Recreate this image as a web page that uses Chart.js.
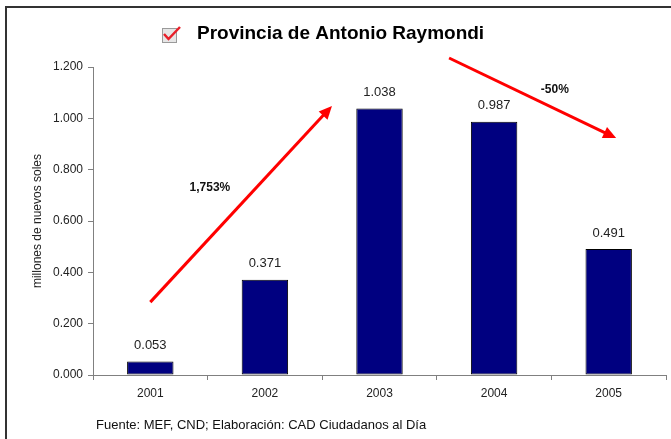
<!DOCTYPE html>
<html><head><meta charset="utf-8">
<script src="https://cdn.jsdelivr.net/npm/chart.js@4"></script>
<style>html,body{margin:0;padding:0;background:#fff}#wrap{width:671px;height:439px;position:relative}</style>
</head><body><div id="wrap"><canvas id="c" width="671" height="439"></canvas></div>
<script>
const years = ['2001', '2002', '2003', '2004', '2005'];
const values = [0.053, 0.371, 1.038, 0.987, 0.491];
const yMin = 0, yMax = 1.2, yStep = 0.2;
const titleText = 'Provincia de Antonio Raymondi';
const yAxisTitle = 'millones de nuevos soles';
const sourceText = 'Fuente: MEF, CND; Elaboración: CAD Ciudadanos al Día';
const trendLabels = ['1,753%', '-50%'];
// annotation positions in data space: [category index, value]
const arrowUp = [[0.0, 0.284], [1.585, 1.048]];
const arrowDown = [[2.607, 1.235], [4.065, 0.923]];
const trendLabelPos = [[0.52, 0.729], [3.53, 1.11]];

const FONT = '"Liberation Sans", Arial, sans-serif';

function drawArrow(ctx, x1, y1, x2, y2) {
  const ang = Math.atan2(y2 - y1, x2 - x1);
  const headLen = 13, headW = 6;
  const bx = x2 - headLen * Math.cos(ang), by = y2 - headLen * Math.sin(ang);
  ctx.save();
  ctx.strokeStyle = '#ff0000';
  ctx.fillStyle = '#ff0000';
  ctx.lineWidth = 3;
  ctx.beginPath();
  ctx.moveTo(x1, y1);
  ctx.lineTo(bx + 2 * Math.cos(ang), by + 2 * Math.sin(ang));
  ctx.stroke();
  ctx.beginPath();
  ctx.moveTo(x2, y2);
  ctx.lineTo(bx + headW * Math.sin(ang), by - headW * Math.cos(ang));
  ctx.lineTo(bx - headW * Math.sin(ang), by + headW * Math.cos(ang));
  ctx.closePath();
  ctx.fill();
  ctx.restore();
}

const decor = {
  id: 'decor',
  beforeDraw(chart) {
    const ctx = chart.ctx;
    ctx.save();
    ctx.fillStyle = '#fff';
    ctx.fillRect(0, 0, chart.width, chart.height);
    ctx.strokeStyle = '#333';
    ctx.lineWidth = 2;
    ctx.strokeRect(6, 7, 720, 500);
    ctx.restore();
  },
  afterDraw(chart) {
    const ctx = chart.ctx;
    const xs = chart.scales.x, ys = chart.scales.y;
    const px = (i) => xs.getPixelForValue(0) + i * (xs.getPixelForValue(1) - xs.getPixelForValue(0));
    const py = (v) => ys.getPixelForValue(v);
    ctx.save();
    // value labels
    ctx.font = '13px ' + FONT;
    ctx.fillStyle = '#222';
    ctx.textAlign = 'center';
    ctx.textBaseline = 'middle';
    const meta = chart.getDatasetMeta(0);
    meta.data.forEach((bar, i) => {
      ctx.fillText(values[i].toFixed(3), bar.x, bar.y - 16);
    });
    // arrows
    drawArrow(ctx, px(arrowUp[0][0]), py(arrowUp[0][1]), px(arrowUp[1][0]), py(arrowUp[1][1]));
    drawArrow(ctx, px(arrowDown[0][0]), py(arrowDown[0][1]), px(arrowDown[1][0]), py(arrowDown[1][1]));
    ctx.font = 'bold 12px ' + FONT;
    ctx.fillStyle = '#111';
    trendLabels.forEach((t, i) => {
      ctx.fillText(t, px(trendLabelPos[i][0]), py(trendLabelPos[i][1]));
    });
    // title
    ctx.font = 'bold 19px ' + FONT;
    ctx.fillStyle = '#000';
    ctx.textAlign = 'left';
    ctx.fillText(titleText, 197, 34);
    // checkbox icon
    ctx.fillStyle = '#e6e6e6';
    ctx.fillRect(162, 28, 15, 15);
    ctx.strokeStyle = '#9a9a9a';
    ctx.lineWidth = 1;
    ctx.strokeRect(162.5, 28.5, 14, 14);
    ctx.strokeStyle = '#e8202a';
    ctx.lineWidth = 2.5;
    ctx.beginPath();
    ctx.moveTo(164, 34);
    ctx.lineTo(168.5, 39);
    ctx.lineTo(180, 27);
    ctx.stroke();
    // source
    ctx.font = '13px ' + FONT;
    ctx.fillStyle = '#111';
    ctx.textAlign = 'left';
    ctx.fillText(sourceText, 96, 425);
    ctx.restore();
  }
};

new Chart(document.getElementById('c'), {
  type: 'bar',
  data: {
    labels: years,
    datasets: [{
      data: values,
      backgroundColor: '#000080',
      borderColor: '#000000',
      borderWidth: 1,
      borderSkipped: false,
      categoryPercentage: 1.0,
      barPercentage: 0.405
    }]
  },
  options: {
    responsive: false,
    animation: false,
    devicePixelRatio: 1,
    layout: { padding: { top: 67, right: 5, bottom: 0, left: 0 } },
    plugins: { legend: { display: false }, tooltip: { enabled: false }, title: { display: false } },
    scales: {
      x: {
        grid: { drawOnChartArea: false, drawTicks: true, tickLength: 5, color: '#808080', offset: true },
        border: { color: '#808080', width: 1 },
        ticks: { color: '#222', font: { family: FONT, size: 12 }, padding: 6 },
        afterFit(s) { s.height = 64; }
      },
      y: {
        min: yMin, max: yMax,
        grid: { drawOnChartArea: false, drawTicks: true, tickLength: 5, color: '#808080' },
        border: { color: '#808080', width: 1 },
        ticks: { stepSize: yStep, color: '#222', font: { family: FONT, size: 12 }, padding: 5,
                 callback: (v) => Number(v).toFixed(3) },
        title: { display: true, text: yAxisTitle, color: '#222', font: { family: FONT, size: 12 }, padding: { top: 30, bottom: 0 } },
        afterFit(s) { s.width = 93; }
      }
    }
  },
  plugins: [decor]
});
</script>
</body></html>
